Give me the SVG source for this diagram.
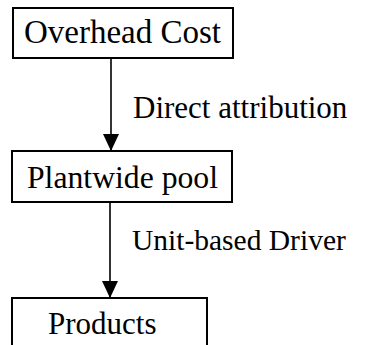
<svg xmlns="http://www.w3.org/2000/svg" width="369" height="345" viewBox="0 0 369 345">
<style>
.box{fill:#fff;stroke:#000;stroke-width:2}
.t{font-family:"Liberation Serif","Times New Roman",serif;fill:#000}
.c{stroke:#000;stroke-width:1.6;fill:none}
</style>
<defs>
<marker id="ah" viewBox="0 0 17 16" refX="17" refY="8" markerWidth="17" markerHeight="16" markerUnits="userSpaceOnUse" orient="auto">
<path d="M0,0 L17,8 L0,16 Z" fill="#000"/>
</marker>
</defs>
<rect width="369" height="345" fill="#fff"/>
<g id="connectors">
<line class="c" x1="111" y1="58" x2="111" y2="151" marker-end="url(#ah)"/>
<line class="c" x1="110" y1="202" x2="110" y2="298" marker-end="url(#ah)"/>
<text class="t" x="133" y="118" font-size="31">Direct attribution</text>
<text class="t" x="132" y="250" font-size="29.5">Unit-based Driver</text>
</g>
<g id="overhead">
<rect class="box" x="13" y="8" width="220" height="50"/>
<text class="t" x="24" y="43" font-size="33">Overhead Cost</text>
</g>
<g id="plantwide">
<rect class="box" x="12" y="151" width="220" height="51"/>
<text class="t" x="27" y="188" font-size="31.7">Plantwide pool</text>
</g>
<g id="products">
<rect class="box" x="12" y="298" width="195" height="60"/>
<text class="t" x="48" y="334" font-size="31">Products</text>
</g>
</svg>
